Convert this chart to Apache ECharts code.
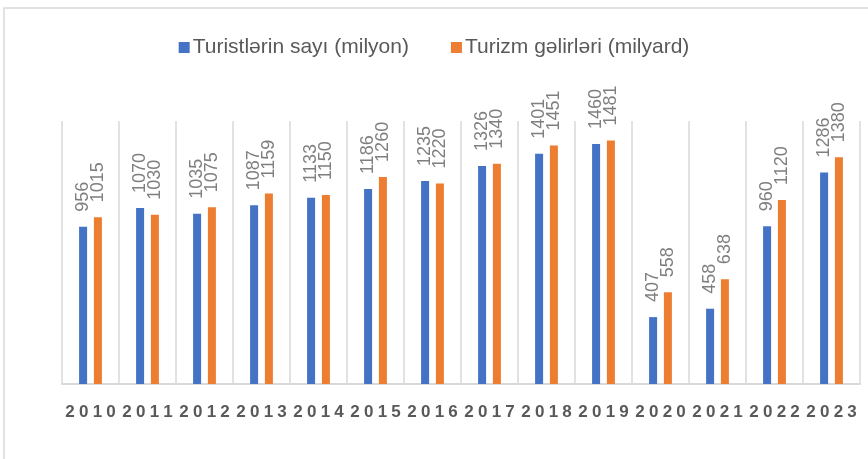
<!DOCTYPE html>
<html>
<head>
<meta charset="utf-8">
<script src="https://cdn.jsdelivr.net/npm/echarts@6/dist/echarts.min.js"></script>
<style>
  html, body { margin: 0; padding: 0; background: #fff; }
  #container { width: 868px; height: 459px; }
</style>
</head>
<body>
<div id="container"></div>
<script>
// illerin siyahisi
var years = ['2010', '2011', '2012', '2013', '2014', '2015', '2016', '2017', '2018', '2019', '2020', '2021', '2022', '2023'];
// turistlerin sayi (milyon)
var tourists = [956, 1070, 1035, 1087, 1133, 1186, 1235, 1326, 1401, 1460, 407, 458, 960, 1286];
// turizm gelirleri (milyard)
var revenue = [1015, 1030, 1075, 1159, 1150, 1260, 1220, 1340, 1451, 1481, 558, 638, 1120, 1380];

var seriesNames = ['Turistlərin sayı (milyon)', 'Turizm gəlirləri (milyard)'];

var dom = document.getElementById('container');
var myChart = echarts.init(dom);

var labelStyle = {
    show: true,
    position: 'top',
    rotate: 90,
    align: 'left',
    verticalAlign: 'middle',
    distance: 15,
    color: '#7f7f7f',
    fontSize: 18,
    fontFamily: 'Liberation Sans'
};

var option = {
    animation: false,
    textStyle: { fontFamily: 'Liberation Sans' },
    graphic: [{
        type: 'rect',
        shape: { x: 4, y: 8, width: 900, height: 500 },
        style: { fill: 'none', stroke: '#d9d9d9', lineWidth: 1.5 },
        silent: true
    }],
    legend: {
        top: 32,
        left: 'center',
        itemWidth: 11,
        itemHeight: 11,
        itemGap: 42,
        icon: 'rect',
        textStyle: { fontSize: 21, color: '#595959', padding: [0, 0, 0, -2] },
        data: seriesNames
    },
    grid: { left: 62, right: 8, top: 121, bottom: 75 },
    xAxis: {
        type: 'category',
        data: years,
        axisLine: { lineStyle: { color: '#d9d9d9', width: 2 } },
        axisTick: { show: false },
        splitLine: { show: true, interval: 0, lineStyle: { color: '#d9d9d9', width: 1.5 } },
        axisLabel: {
            interval: 0,
            margin: 20,
            fontSize: 17,
            fontWeight: 'bold',
            color: '#595959',
            formatter: function (v) { return v.split('').join('\u2005'); }
        }
    },
    yAxis: {
        type: 'value',
        min: 0,
        max: 1600,
        show: false
    },
    series: [{
        name: seriesNames[0],
        type: 'bar',
        data: tourists,
        barWidth: 8,
        barGap: '85%',
        itemStyle: { color: '#4472C4' },
        label: labelStyle
    }, {
        name: seriesNames[1],
        type: 'bar',
        data: revenue,
        barWidth: 8,
        itemStyle: { color: '#ED7D31' },
        label: labelStyle
    }]
};

myChart.setOption(option, true);
</script>
</body>
</html>
